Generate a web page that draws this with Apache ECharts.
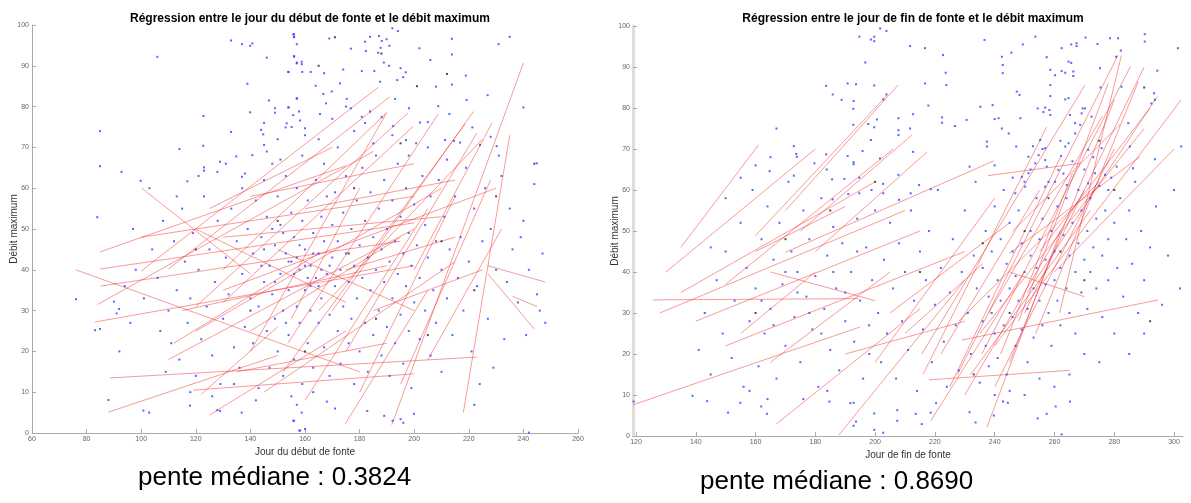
<!DOCTYPE html>
<html><head><meta charset="utf-8">
<script src="https://cdn.jsdelivr.net/npm/echarts@6/dist/echarts.min.js"></script>
<style>html,body{margin:0;padding:0;background:#fff}#c{width:1191px;height:503px}</style>
</head><body><div id="c"></div>
<script>
// ---------- Left chart: début de fonte ----------
const titleLeft = "Régression entre le jour du début de fonte et le débit maximum";
const titleRight = "Régression entre le jour de fin de fonte et le débit maximum";
const xNameLeft = "Jour du début de fonte";
const xNameRight = "Jour de fin de fonte";
const yName = "Débit maximum";
const slopeLeft = "pente médiane : 0.3824";
const slopeRight = "pente médiane : 0.8690";
const xTicksLeft = [60,80,100,120,140,160,180,200,220,240,260];
const xTicksRight = [120,140,160,180,200,220,240,260,280,300];
const yTicks = [0,10,20,30,40,50,60,70,80,90,100];

const pointsLeftBlue = [
[105.9,92.2],[132.9,96.2],[136.9,95.3],[139.9,94.9],[140.7,95.5],[146,92],[138.9,85.6],[122.8,77.7],[146.8,81.5],[149,79.6],
[149,78.5],[139.9,78.6],[132.9,73.8],[143.9,74.3],[144.7,73.2],[145,70.6],[122.7,70.4],[114,69.6],[128.9,66.5],[123,65.1],
[123,64.3],[127.9,64],[134.8,67.8],[140.7,68.1],[138,63.6],[136.9,62.8],[116.9,61.7],[153.9,88.5],[156,97.7],[156,97.1],
[157,90.6],[157,82],[154,79.8],[155.7,77.9],[153.3,75.9],[155.1,75],[156,92.4],[84.9,74],[84.9,65.4],[92.8,64],[99.8,61.8],
[155.7,97.7],[156,97],[157,95.3],[156,92.2],[157,90.8],[158.8,91],[158.8,90.4],[168.9,96.7],[176.8,94.2],[183.8,97.1],
[182,95.9],[187.1,97.3],[188.1,96.1],[189.9,96.5],[190.9,94.9],[187.7,94.4],[186.8,93.2],[182.3,93.6],[192,99.2],[194,98.5],
[188.9,90.8],[190.8,90],[185.4,88.7],[180.8,88.7],[174,89.1],[167,88.2],[162.1,88.5],[159,88.5],[153.9,88.5],[195,89.4],
[196.9,88.4],[196,87.2],[193.8,86.5],[201.9,94.3],[205.9,91.4],[213.8,96.6],[213.8,92.8],[208,84.9],[213.8,85.4],[218.9,87.6],
[226.9,82.8],[230.9,95.3],[235,97.1],[240,79.8],[244.9,66.1],[219.2,81.6],[193,81.9],[187.5,86.1],[172.8,85.7],[169.8,83.7],
[166.7,83.1],[163.9,85.1],[157,82],[153.9,79.8],[157.8,78.8],[152.9,74.9],[160,74.7],[158.2,76.6],[165.5,78.2],[167.7,80.8],
[175.3,81.9],[176.8,79.6],[180.8,77.5],[183.8,78.8],[188.1,77.4],[192.3,75.2],[198.1,79.6],[202.1,76.1],[205,76.2],[208.8,80.1],
[212.9,78.2],[221.3,74.9],[224.1,70.6],[230.2,70.3],[228,72.6],[211.3,71.8],[214.6,71.6],[216.8,71.2],[197,71.8],[200.7,71],
[100.8,5.5],[102.9,5],[117.9,6.7],[127.9,5.6],[128.9,5.4],[136.8,5],[155.7,3],[157,6.9],[158.2,0.6],[158.8,5],[156,3],
[157.9,0.6],[160,1],[168,7.7],[171,6],[182.8,5.4],[189,4.2],[192.1,3],[195,3.4],[196,2.5],[199.9,4.7],[222,6.9],[242,0.1],
[83.9,52.9],[76.1,32.8],[90,32.2],[91,29.3],[91.9,30.4],[83.1,25.2],[84.9,25.5],[88,8.1],
[104,45],[106,38],[108,52],[110,30],[111,22],[112,47],[113,35],[114,18],[115,55],[116,42],[117,27],[118,33],[119,49],[120,14],
[121,40],[122,23],[123,58],[124,31],[125,45],[126,19],[127,37],[128,52],[129,12],[130,28],[131,43],[132,34],[133,55],[134,21],
[135,47],[136,16],[137,39],[138,26],[139,50],[140,33],[103,60],[107,25],[109,15],[113,58],[118,10],[121,63],[126,9],[131,66],
[134,12],[137,60],[101,33],[98,40],[96,27],[94,36],[92,20],[97,50],
[141,44],[141,22],[142,57],[143,31],[143,11],[144,48],[145,37],[145,62],[146,25],[146,53],[147,41],[147,16],[148,34],[148,66],
[149,46],[149,28],[150,58],[150,20],[151,39],[151,51],[152,30],[152,14],[153,44],[153,63],[154,35],[154,24],[155,54],[155,42],
[156,18],[156,48],[157,31],[157,60],[158,40],[158,27],[159,52],[159,12],[160,45],[160,35],[161,22],[161,57],[162,41],[162,30],
[163,49],[163,16],[164,38],[164,62],[165,27],[165,44],[166,53],[166,33],[167,21],[167,47],[168,39],[168,58],[169,29],[169,14],
[170,43],[170,51],[142,8],[146,69],[151,67],[155,9],[159,68],[163,10],[167,66],[144,41],[149,37],[153,27],[157,43],[161,38],
[165,36],[169,41],[156,39],[160,41],[158,46],[162,36],[154,42],[166,40],[152,49],[148,50],[145,45],[163,44],
[171,36],[171,59],[172,25],[172,47],[173,40],[173,17],[174,54],[174,31],[175,44],[175,63],[176,22],[176,37],[177,50],[177,28],
[178,41],[178,12],[179,57],[179,33],[180,46],[180,20],[181,38],[181,65],[182,27],[182,52],[183,43],[183,15],[184,35],[184,59],
[185,48],[185,24],[186,40],[186,68],[187,30],[187,55],[188,19],[188,45],[189,37],[189,62],[190,26],[190,50],[191,42],[191,14],
[192,33],[192,57],[193,47],[193,22],[194,39],[194,66],[195,29],[195,53],[196,44],[196,17],[197,36],[197,60],[198,25],[198,49],
[199,41],[199,11],[200,32],[200,56],[201,46],[202,23],[202,38],[203,63],[204,30],[204,51],[205,43],[206,19],[206,58],[207,35],
[208,47],[208,27],[209,62],[210,40],[210,15],
[211,53],[212,33],[213,45],[214,24],[215,58],[216,38],[217,48],[218,30],[219,65],[220,42],[221,20],[222,55],[223,36],[224,12],
[225,47],[226,60],[227,28],[228,50],[230,40],[232,63],[233,23],[235,55],[236,45],[238,32],[240,52],[241,24],[242,40],[244,61],
[245,34],[246,30],[247,44],[248,27],[239,48],[234,37],[231,68],[229,16],
[165,72],[172,70],[178,74],[185,71],[192,73],[198,68],[205,70],[212,67],[160,73],[150,72],[145,76],[175,80],[182,76],[170,77]
];
const pointsLeftBlack = [
[165,90],[188,93],[201,85],[178,60],[195,71],[210,47],[222,35],[160,20],[150,52],[140,30],[186,28],[230,58],[120,45],[176,44],
[205,24],[244,66],[212,88],[171,97]
];
// regression segments [x1, y1, x2, y2]
const linesLeft = [
[85,44.4,175,65.5],[85,40.2,200,51.5],[85,36,195,47],[84,31.5,185,69],[83,27.2,200,41],[76,40,180,15],[88,5.1,150,19],
[88.6,13.5,223,18.6],[100.2,60,140,39],[125,4.4,175,25],[119,10.5,200,14.5],[122,9.5,150,26],[100,39.7,186.8,84.7],
[110,40.2,191.1,82.4],[130,40,189.9,78.5],[140,20,189.9,78.5],[120,31,197.8,78.5],[130,32,199.7,75.2],[153.7,22,208.8,78.2],
[170,30,221.7,78.8],[152,15,218.6,75.7],[175,20,222.9,73.5],[191.8,2,240,90.7],[174.7,2.2,205,35],[218,5,235,73],
[200,40,228.5,76],[227,41,248,37],[227,39,244,25.5],[236,33.5,245,31],[110,18,200,50],[120,25,210,60],[130,48,210,53],
[100,48,200,58],[115,30,190,41],[125,55,170,70],[140,58,200,66],[130,35,230,60],[150,45,200,30],[120,50,175,32],
[145,10,215,42],[160,8,205,55],[165,30,225,72],[180,10,215,58],[195,12,228,62],[140,25,195,48],[155,28,180,60],
[175,40,215,48],[135,15,190,22],[160,55,215,62],[185,30,225,40],[205,18,232,50],[112,22,165,44]
];

// ---------- Right chart: fin de fonte ----------
const pointsRightBlue = [
[164.7,64.6],[172.8,70.7],[173.6,68.8],[173.8,68.1],[172.8,63.5],[179.7,66.5],[183.6,68.7],[183.8,65],[185.6,62.6],[183.6,85.4],
[185.8,83.3],[188.8,82],[190.8,86],[193.6,85.8],[192.8,81.7],[192.7,79.8],[192.7,75.9],[194.7,97.4],[196.7,91.1],[198.6,96.7],
[199.7,97.4],[199.7,96.3],[201.7,99.4],[203.8,98.8],[199.7,85.5],[202.7,82.1],[203.8,83.3],[200.6,77.2],[197.7,76.1],[199.7,75.3],
[198.6,72.2],[195.8,69.5],[192.8,66.8],[192.8,66.3],[190.8,68.3],[189.7,62.7],[194.7,63],[201.6,67.7],[202.7,61.5],[202.7,59.2],
[198.8,60],[194.7,59.2],[185.8,57.7],
[211.7,95.1],[216.7,94.6],[222.7,92.9],[223.6,88.6],[223.8,85.6],[236.6,96.6],[242.4,92.5],[242.7,90.5],[242.7,88.5],[245.6,93.5],
[249.4,95.5],[253.6,97.4],[257.4,92.4],[258.6,89.3],[258.6,85.6],[260.2,88],[262.4,94.6],[262.4,89],[263.6,88.6],[264.7,91.3],
[265.6,91],[266.3,88.9],[266.3,87.8],[265.6,95.5],[267.4,95.8],[267.4,95.1],[270.4,97.2],[274.4,95.6],[278.6,97],[281.3,97],
[280.6,92.5],[282.2,94],[275.2,89.7],[275.4,85],[290.2,98],[290.2,96.2],[294.4,89.1],[301.3,94.6],[282.4,85.2],[247.4,84],
[248.3,83.2],[258.6,82.9],[263.6,82.1],[264.7,82.4],[270.2,79.9],[269.4,79.9],[272.4,77.9],[269.1,78.7],[268.6,75.9],[265.2,78.3],
[266.9,76.3],[256.9,80.1],[256.3,79],[258.3,79.5],[258.6,78.3],[254.4,79.9],[248.6,77.5],[252.8,70.7],[247.2,70.6],[237.4,71.8],
[237.4,70.6],[239.3,80.7],[235.2,80.3],[240,77.3],[241.3,77.5],[242.4,75],[244.7,73.8],[230.6,77.1],[226.7,75.6],[222.4,77.7],
[222.4,76.4],[217.8,80.6],[216.7,86],[211.7,75],[207.8,77.5],[207.8,74.6],[207.8,73.4],[212.7,78.5],[212.7,69.3],[207.8,63.7],
[231.6,65.7],[233.6,62],[214.7,61.2],[218.6,60.2],[208,57.6],[211.9,59.2],[271.3,69.8],[275.8,70.2],[285.2,70.6],[284.7,76.3],
[293.6,82],[292.4,81.1],[293.3,83.6],[302.4,70.6],[293.6,67.5],[286.3,65.3],[280.8,65.7],[276.9,63.7],[278,60],[271.3,61.6],
[273.6,64.1],[264.7,71.4],[266.9,73.8],[263.6,70.6],[262.2,68.3],[261.3,64.9],[256.9,67.3],[257.4,65.7],[254.7,68.5],[256.9,70.2],
[255.2,72.2],[251.3,68.1],[253.6,66.5],[251.3,64.1],[249.1,63.2],[246.9,59.2],[250.2,60.8],[256.9,60.8],[260.2,62],[264.1,61.2],
[119.2,8.4],[143.8,8.5],[150.8,5.7],[154.9,8.1],[161.9,7.2],[163.8,5.4],[184.7,8.4],[191.7,8],[192.8,8.1],[193.6,3.5],[192.8,2.5],
[199.7,5.5],[199.7,1.5],[202.7,0.8],[207.4,6.3],[207.4,3.7],[213.6,5.4],[215.6,2.9],[218.6,5.7],[220.4,8],[231.6,5.8],[233.6,3.3],
[239.7,5],[242.8,8.4],[244.4,8.1],[254.4,4.3],[257.4,5.4],[260.4,7.2],[262.4,0.4],[265.2,8.4],[138.9,9.8],
[141,21],[143,30],[145,15],[147,38],[149,25],[150,45],[152,19],[153,33],[155,52],[156,12],[157,41],[158,28],[159,60],[160,36],
[161,17],[162,48],[163,25],[164,56],[165,31],[166,43],[167,14],[168,52],[169,37],[170,22],[171,62],[172,45],[173,29],[174,40],
[175,18],[176,55],[177,34],[178,48],[179,26],[180,39],[181,12],[182,58],[183,31],[184,44],[185,21],[186,51],[187,36],[188,16],
[189,47],[190,28],[191,59],[192,40],[193,23],[194,53],[195,33],[196,14],[197,46],[198,27],[199,38],[200,55],[162,33],[166,27],
[170,40],[174,35],[178,30],[182,25],[186,40],[190,35],[194,45],[198,20],[145,46],[150,58],[155,63],[160,66],[165,68],[167,75],
[158,11],[176,9],[184,11],[164,9],
[201,30],[202,18],[203,43],[204,25],[205,52],[206,36],[207,14],[208,47],[209,28],[210,40],[211,21],[212,55],[213,33],[214,11],
[215,45],[216,26],[217,38],[218,50],[219,18],[220,32],[221,60],[222,41],[223,23],[224,12],[225,35],[226,48],[227,27],[228,16],
[229,40],[230,55],[231,30],[232,20],[233,44],[234,36],[235,13],
[236,28],[236,41],[237,22],[237,50],[238,34],[238,17],[239,45],[239,30],[240,25],[240,56],[241,38],[241,19],[242,48],[242,33],
[243,27],[243,60],[244,42],[244,15],[245,36],[245,52],[246,29],[246,45],[247,22],[247,39],[248,55],[248,33],[249,47],[249,26],
[250,40],[250,62],[251,31],[251,18],[252,50],[252,44],[253,36],[253,24],[254,58],[254,41],[255,33],[255,48],[256,27],[256,53],
[257,43],[257,37],[258,62],[258,30],[259,50],[259,22],[260,45],[260,38],[261,56],[261,33],[262,41],[262,27],[263,64],[263,49],
[264,36],[264,58],[265,44],[265,30],[266,52],[266,67],[267,40],[267,25],[268,60],[268,47],[269,35],[269,55],[270,43],[270,65],
[271,50],[271,31],[272,58],[272,40],[273,46],[273,68],[274,36],[274,53],[275,61],[276,44],[276,29],[277,55],[278,48],[278,38],
[279,63],[280,52],[281,41],[282,58],[283,34],[284,48],[285,55],[286,42],[287,62],[288,30],[289,50],[290,38],[292,46],[294,56],
[296,32],[298,44],[300,60],[302,36],[290,25],[285,20],[280,25],[275,18],[270,20],[265,15],[260,12],[255,14],[250,10],[245,11],
[240,10],[252,65],[256,70],[262,72],[246,63],[240,66]
];
const pointsRightBlack = [
[250,50],[262,45],[270,38],[245,30],[280,60],[258,58],[236,47],[275,72],[290,85],[233,15],[215,40],[200,62],[185,55],[170,48],
[160,30],[292,28]
];
const linesRight = [
[119,7.6,195,26.6],[125.7,33.2,194.7,33.5],[160,48.9,204.1,83.2],[150,37,206,70],[170,55,207.7,85.6],[175,50,212.3,73.4],
[180,45,217.4,69.3],[170,44.8,239.7,67.1],[237.7,63.5,268.6,66.5],[216,15,257.4,75.4],[215.6,20,270.2,85.6],[227.5,15,281.3,92.9],
[235.7,20,285.4,90.1],[253.7,25,288,86.4],[261.7,30,282.4,92.9],[250.9,35,294.4,82.8],[240,22,302.4,82],[245,44.6,288.6,68.1],
[218.6,3.7,250,40.1],[237.4,2.1,262,50],[166.9,2.9,215,31],[187.8,0.2,230,38],[230,10,270,60],[240,12,280,70],[235,25,290,75],
[245,18,280,82],[250,30,290,90],[225,12,262,68],[228,28,275,62],[260,40,300,70],[165,40,200,33],[245,40,270,34],
[135,46,161,71],[130,40,180,70],[135,35,200,62],[128,30,210,55],[140,28,215,50],[150,22,230,45],[165,18,205,40],[160,45,190,56],
[155,25,180,40],[218,13.7,265,16],[229,23.4,294.7,33.2],[232,15,272,55],[238,30,276,78],[242,20,266,64],[248,28,278,86],
[222,20,255,60],[200,18,240,58],[205,30,245,52],[255,45,292,80],[246,50,282,76],[210,25,236,42],[190,20,230,28]
];

const fontFam = '"Liberation Sans", Arial, Helvetica, sans-serif';
function xAxisCfg(idx, min, max, ticks, name) {
  return {
    type: 'value', gridIndex: idx, min: min, max: max, name: name,
    nameLocation: 'middle', nameGap: 14, nameMoveOverlap: false,
    nameTextStyle: { fontFamily: fontFam, fontSize: 10, color: '#333' },
    axisLine: { show: true, lineStyle: { color: '#aaa', width: 1 } },
    axisTick: { show: true, inside: true, length: 4, lineStyle: { color: '#aaa' }, customValues: ticks },
    axisLabel: { fontFamily: fontFam, fontSize: 7, color: '#666', margin: 3, customValues: ticks },
    splitLine: { show: false }
  };
}
function yAxisCfg(idx, lineColor, lineWidth) {
  return {
    type: 'value', gridIndex: idx, min: 0, max: 100, name: yName,
    nameLocation: 'middle', nameGap: 13, nameRotate: 90, nameMoveOverlap: false,
    nameTextStyle: { fontFamily: fontFam, fontSize: 10, color: '#333' },
    axisLine: { show: true, lineStyle: { color: lineColor, width: lineWidth } },
    axisTick: { show: true, inside: true, length: 4, lineStyle: { color: '#aaa' }, customValues: yTicks },
    axisLabel: { fontFamily: fontFam, fontSize: 7, color: '#666', margin: 3, customValues: yTicks },
    splitLine: { show: false }
  };
}
function segs(arr) { return arr.map(l => ({ coords: [[l[0], l[1]], [l[2], l[3]]] })); }

const chart = echarts.init(document.getElementById('c'), null, { renderer: 'canvas' });
chart.setOption({
  animation: false,
  backgroundColor: '#fff',
  title: [
    { text: titleLeft, left: 305, top: 8, textAlign: 'center', textStyle: { fontFamily: fontFam, fontSize: 12, fontWeight: 'bold', color: '#000' } },
    { text: titleRight, left: 908, top: 8, textAlign: 'center', textStyle: { fontFamily: fontFam, fontSize: 12, fontWeight: 'bold', color: '#000' } }
  ],
  graphic: [
    { type: 'text', left: 138, top: 465, style: { text: slopeLeft, font: '26px ' + fontFam, fill: '#000' } },
    { type: 'text', left: 700, top: 469, style: { text: slopeRight, font: '26px ' + fontFam, fill: '#000' } }
  ],
  grid: [
    { left: 32, top: 25, width: 546, height: 408 },
    { left: 633, top: 26, width: 550, height: 410 }
  ],
  xAxis: [ xAxisCfg(0, 60, 260, xTicksLeft, xNameLeft), xAxisCfg(1, 119, 303, xTicksRight, xNameRight) ],
  yAxis: [ yAxisCfg(0, '#aaa', 1), yAxisCfg(1, '#ddd', 3) ],
  series: [
    { type: 'lines', coordinateSystem: 'cartesian2d', xAxisIndex: 0, yAxisIndex: 0, silent: true, z: 2,
      lineStyle: { color: '#f02020', width: 1, opacity: 0.45 }, data: segs(linesLeft) },
    { type: 'scatter', xAxisIndex: 0, yAxisIndex: 0, symbol: 'rect', symbolSize: 2, silent: true, z: 3,
      itemStyle: { color: '#3a3aff' }, data: pointsLeftBlue },
    { type: 'scatter', xAxisIndex: 0, yAxisIndex: 0, symbol: 'rect', symbolSize: 2, silent: true, z: 3,
      itemStyle: { color: '#222' }, data: pointsLeftBlack },
    { type: 'lines', coordinateSystem: 'cartesian2d', xAxisIndex: 1, yAxisIndex: 1, silent: true, z: 2,
      lineStyle: { color: '#f02020', width: 1, opacity: 0.45 }, data: segs(linesRight) },
    { type: 'scatter', xAxisIndex: 1, yAxisIndex: 1, symbol: 'rect', symbolSize: 2, silent: true, z: 3,
      itemStyle: { color: '#3a3aff' }, data: pointsRightBlue },
    { type: 'scatter', xAxisIndex: 1, yAxisIndex: 1, symbol: 'rect', symbolSize: 2, silent: true, z: 3,
      itemStyle: { color: '#222' }, data: pointsRightBlack }
  ]
});
</script>
</body></html>
